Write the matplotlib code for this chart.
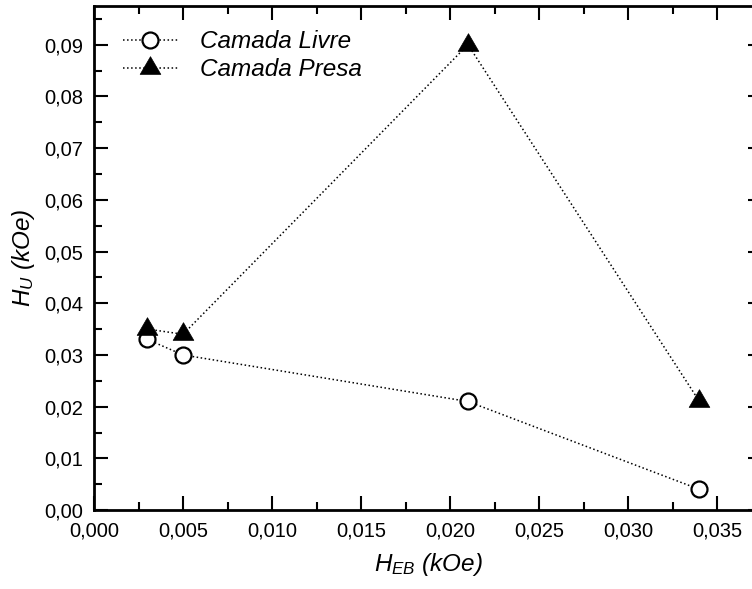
import numpy as np
import matplotlib.pyplot as plt
from matplotlib.ticker import FuncFormatter, MultipleLocator

plt.rcParams['font.family'] = ['Liberation Sans', 'DejaVu Sans']
plt.rcParams['mathtext.fontset'] = 'custom'
plt.rcParams['mathtext.it'] = 'Liberation Sans:italic'
plt.rcParams['mathtext.rm'] = 'Liberation Sans'

# data
h_eb = [0.003, 0.005, 0.021, 0.034]
hu_livre = [0.033, 0.030, 0.021, 0.004]
hu_presa = [0.035, 0.034, 0.090, 0.021]

# triangle centred on its centroid, like the original software draws it
tri = [(0, 12), (-10.5, -6), (10.5, -6), (0, 12)]

fig = plt.figure(figsize=(7.52, 5.89), dpi=100)
ax = fig.add_axes([0.125, 0.134, 0.888, 0.856])

ax.plot(h_eb, hu_livre, ls=':', lw=1.1, color='black', marker='o', ms=11.5,
        mfc='white', mec='black', mew=1.6, label='Camada Livre')
ax.plot(h_eb, hu_presa, ls=':', lw=1.1, color='black', marker=tri, ms=17,
        mfc='black', mec='black', mew=0.5, label='Camada Presa')

ax.set_xlim(0, 0.0375)
ax.set_ylim(0, 0.0975)
ax.xaxis.set_major_locator(MultipleLocator(0.005))
ax.xaxis.set_minor_locator(MultipleLocator(0.0025))
ax.yaxis.set_major_locator(MultipleLocator(0.01))
ax.yaxis.set_minor_locator(MultipleLocator(0.005))
ax.xaxis.set_major_formatter(FuncFormatter(lambda v, p: f'{v:.3f}'.replace('.', ',')))
ax.yaxis.set_major_formatter(FuncFormatter(lambda v, p: f'{v:.2f}'.replace('.', ',')))

ax.tick_params(which='both', direction='in', top=True, right=True, width=1.5, labelsize=14.5)
ax.tick_params(which='major', length=10, pad=8)
ax.tick_params(which='minor', length=6)
for s in ax.spines.values():
    s.set_linewidth(2)

ax.set_xlabel(r'$H_{EB}$ (kOe)', fontsize=17.5, style='italic', labelpad=8)
ax.set_ylabel(r'$H_{U}$ (kOe)', fontsize=17.5, style='italic', labelpad=5)

leg = ax.legend(loc='upper left', bbox_to_anchor=(0.014, 0.99), frameon=False,
                prop={'style': 'italic', 'size': 17.5},
                handlelength=2.26, borderaxespad=0.4, labelspacing=0.2, handletextpad=0.9)

fig.savefig('out.png', dpi=100)
